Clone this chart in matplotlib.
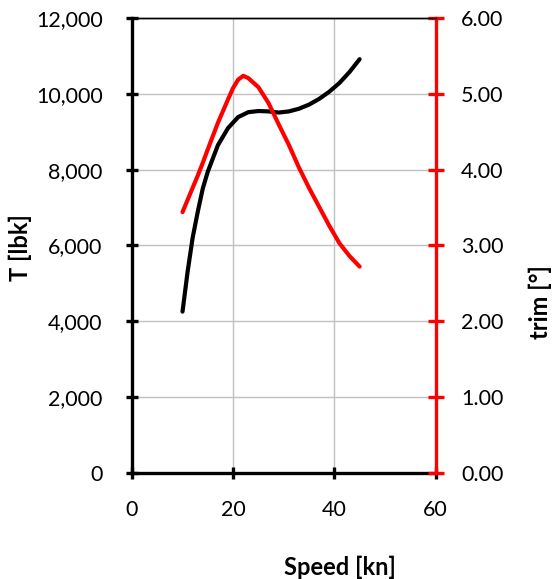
import matplotlib.pyplot as plt
from matplotlib.ticker import FuncFormatter

# values
speed_T = [10, 11, 12, 13, 14, 15, 17, 19, 21, 23, 25, 27, 29, 31, 33, 35, 37, 39, 41, 43, 45]
thrust = [4250, 5300, 6200, 6880, 7500, 7950, 8650, 9100, 9390, 9520, 9550, 9540, 9510,
          9540, 9610, 9720, 9870, 10060, 10290, 10580, 10920]

speed_trim = [10, 11, 12, 13, 14, 15, 17, 19, 20, 21, 22, 23, 24, 25, 27, 29, 31, 33, 35,
              37, 39, 41, 43, 45]
trim = [3.44, 3.60, 3.76, 3.92, 4.09, 4.27, 4.62, 4.93, 5.08, 5.19, 5.24, 5.21, 5.15, 5.09,
        4.88, 4.60, 4.33, 4.03, 3.76, 3.51, 3.26, 3.03, 2.86, 2.72]

plt.rcParams['font.family'] = ['Lato', 'DejaVu Sans']

fig = plt.figure(figsize=(5.58, 5.79), dpi=100)
ax = fig.add_axes([0.2364, 0.1839, 0.5441, 0.7845])
ax2 = ax.twinx()

ax.plot(speed_T, thrust, color='black', lw=3.0, solid_capstyle='round',
        solid_joinstyle='round', zorder=3)
ax2.plot(speed_trim, trim, color='#ff0000', lw=3.0, solid_capstyle='round',
         solid_joinstyle='round', zorder=3)

ax.set_xlim(0, 60)
ax.set_ylim(0, 12000)
ax2.set_ylim(0, 6)
ax.set_xticks([0, 20, 40, 60])
ax.set_yticks(range(0, 12001, 2000))
ax2.set_yticks([0, 1, 2, 3, 4, 5, 6])
ax.yaxis.set_major_formatter(FuncFormatter(lambda v, p: f"{int(v):,}"))
ax2.yaxis.set_major_formatter(FuncFormatter(lambda v, p: f"{v:.2f}"))

ax.grid(True, color='#c0c0c0', lw=1.0)
ax.set_axisbelow(True)

for s in ['left', 'bottom']:
    ax.spines[s].set_linewidth(2.4)
    ax.spines[s].set_color('black')
ax.spines['top'].set_linewidth(1.0)
ax.spines['right'].set_visible(False)
ax2.spines['right'].set_color('#ff0000')
ax2.spines['right'].set_linewidth(2.4)
ax2.spines['left'].set_visible(False)
ax2.spines['bottom'].set_visible(False)
ax2.spines['top'].set_linewidth(1.0)

ax.tick_params(axis='both', direction='inout', length=8, width=2.4, labelsize=15.5)
ax.tick_params(axis='x', pad=16)
ax.tick_params(axis='y', pad=17)
ax2.tick_params(axis='y', direction='inout', length=11, width=2.4, color='#ff0000',
                labelsize=15.5, pad=13)

fig.text(0.036, 0.572, 'T [lbk]', rotation=90, ha='center', va='center',
         fontsize=17, fontweight='bold')
fig.text(0.968, 0.478, 'trim [°]', rotation=90, ha='center', va='center',
         fontsize=17, fontweight='bold')
fig.text(0.609, 0.021, 'Speed [kn]', ha='center', va='center',
         fontsize=17, fontweight='bold')

fig.savefig('out.png', dpi=100)
